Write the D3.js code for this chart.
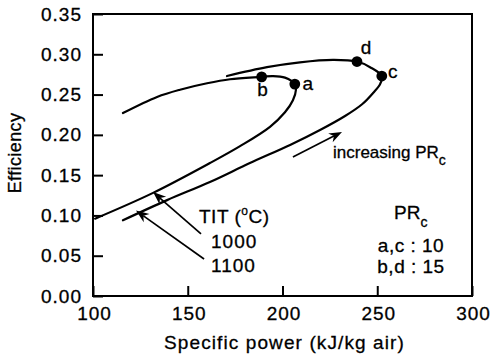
<!DOCTYPE html>
<html>
<head>
<meta charset="utf-8">
<script src="https://cdn.jsdelivr.net/npm/d3@7"></script>
<style>
  body { margin: 0; background: #fff; }
  text { font-family: "Liberation Sans", Arial, Helvetica, sans-serif; fill: #000; stroke: #000; stroke-width: 0.3px; }
</style>
</head>
<body>
<div id="chart"></div>
<script>
// Datos (potencia específica kJ/kg, eficiencia)
const tit1000X = [101.1, 131.7, 161.7, 177.6, 193.4, 201.3, 205.5, 207.1, 206.5, 201.3, 195.0, 189.0, 172.3, 160.2, 145.9, 133.8, 115.8];
const tit1000Y = [0.096, 0.128, 0.165, 0.186, 0.210, 0.228, 0.243, 0.256, 0.263, 0.271, 0.273, 0.272, 0.269, 0.264, 0.256, 0.247, 0.227];
const tit1100X = [115.8, 139.1, 161.7, 182.8, 204.0, 219.8, 233.0, 242.0, 247.8, 251.5, 252.4, 246.2, 239.3, 226.6, 209.2, 191.8, 170.7];
const tit1100Y = [0.094, 0.119, 0.1415, 0.165, 0.1874, 0.206, 0.2234, 0.238, 0.252, 0.263, 0.273, 0.284, 0.291, 0.293, 0.290, 0.284, 0.273];

// Puntos marcados
const pointNames = ["a", "b", "c", "d"];
const pointX = [206.5, 189.0, 252.4, 239.3];
const pointY = [0.263, 0.272, 0.273, 0.291];

// Ticks
const xTicks = [100, 150, 200, 250, 300];
const yTicks = [0, 0.05, 0.10, 0.15, 0.20, 0.25, 0.30, 0.35];

// Flechas de anotación [x0, y0, x1, y1] en unidades de datos
const arrowPR = [205.5, 0.1725, 231.4, 0.2036];
const arrow1000 = [157.0, 0.077, 131.7, 0.129];
const arrow1100 = [158.6, 0.046, 122.7, 0.106];

const margin = { top: 14, right: 22, bottom: 59, left: 93 };
const width = 494 - margin.left - margin.right;
const height = 355 - margin.top - margin.bottom;

const svg = d3.select("#chart")
  .append("svg")
  .attr("width", 494)
  .attr("height", 355);

const g = svg.append("g")
  .attr("transform", `translate(${margin.left},${margin.top})`);

const xScale = d3.scaleLinear().domain([100, 300]).range([0, width]);
const yScale = d3.scaleLinear().domain([0, 0.35]).range([height, 0]);

// Ejes con ticks hacia dentro
const xAxis = g.append("g")
  .attr("transform", `translate(0,${height})`)
  .call(d3.axisBottom(xScale).tickValues(xTicks).tickSizeInner(-10).tickSizeOuter(0).tickPadding(11).tickFormat(d3.format("d")));
const yAxis = g.append("g")
  .call(d3.axisLeft(yScale).tickValues(yTicks).tickSizeInner(-10).tickSizeOuter(0).tickPadding(11).tickFormat(d3.format(".2f")));

[xAxis, yAxis].forEach(ax => {
  ax.select(".domain").remove();
  ax.selectAll(".tick line").attr("stroke", "#000").attr("stroke-width", 2);
  ax.selectAll(".tick text")
    .attr("font-size", 19)
    .attr("letter-spacing", 1)
    .attr("font-family", "'Liberation Sans', Arial, sans-serif")
    .attr("fill", "#000");
});
xAxis.selectAll(".tick text").attr("dx", 1);

// Marco
g.append("rect")
  .attr("width", width)
  .attr("height", height)
  .attr("fill", "none")
  .attr("stroke", "#000")
  .attr("stroke-width", 2);

// Títulos de ejes
svg.append("text")
  .attr("x", margin.left + width / 2 + 2)
  .attr("y", 349)
  .attr("text-anchor", "middle")
  .attr("font-size", 19)
  .attr("letter-spacing", 1.1)
  .text("Specific power (kJ/kg air)");

svg.append("text")
  .attr("transform", `translate(21,${margin.top + height / 2 - 2}) rotate(-90)`)
  .attr("text-anchor", "middle")
  .attr("font-size", 18)
  .attr("letter-spacing", 0.4)
  .text("Efficiency");

// Curvas
const line = d3.line()
  .x(d => xScale(d[0]))
  .y(d => yScale(d[1]))
  .curve(d3.curveCatmullRom.alpha(0.5));

[[tit1000X, tit1000Y], [tit1100X, tit1100Y]].forEach(([xs, ys]) => {
  g.append("path")
    .datum(xs.map((x, i) => [x, ys[i]]))
    .attr("d", line)
    .attr("fill", "none")
    .attr("stroke", "#000")
    .attr("stroke-width", 2.2)
    .attr("stroke-linecap", "round");
});

// Puntos a, b, c, d
const labelOffset = { a: [13, 6], b: [1, 19], c: [11, 2], d: [9, -8] };
pointNames.forEach((name, i) => {
  const px = xScale(pointX[i]), py = yScale(pointY[i]);
  g.append("circle").attr("cx", px).attr("cy", py).attr("r", 5.4).attr("fill", "#000");
  g.append("text")
    .attr("x", px + labelOffset[name][0])
    .attr("y", py + labelOffset[name][1])
    .attr("text-anchor", "middle")
    .attr("font-size", 19)
    .text(name);
});

// Flechas
function drawArrow(a, w) {
  const x0 = xScale(a[0]), y0 = yScale(a[1]), x1 = xScale(a[2]), y1 = yScale(a[3]);
  const ang = Math.atan2(y1 - y0, x1 - x0);
  const len = 13, half = 5;
  const bx = x1 - len * Math.cos(ang), by = y1 - len * Math.sin(ang);
  const nx = -Math.sin(ang), ny = Math.cos(ang);
  const mx = x1 - 0.7 * len * Math.cos(ang), my = y1 - 0.7 * len * Math.sin(ang);
  g.append("line")
    .attr("x1", x0).attr("y1", y0).attr("x2", mx).attr("y2", my)
    .attr("stroke", "#000").attr("stroke-width", w);
  g.append("path")
    .attr("d", `M${x1},${y1}L${bx + nx * half},${by + ny * half}L${mx},${my}L${bx - nx * half},${by - ny * half}Z`)
    .attr("fill", "#000");
}
drawArrow(arrowPR, 1.7);
drawArrow(arrow1000, 1.7);
drawArrow(arrow1100, 1.7);

// Anotaciones de texto
const t1 = svg.append("text").attr("x", 333).attr("y", 158).attr("font-size", 17);
t1.append("tspan").text("increasing PR");
t1.append("tspan").attr("font-size", 14).attr("dy", 7).text("c");

const t2 = svg.append("text").attr("x", 199).attr("y", 223).attr("font-size", 19).attr("letter-spacing", 0.5);
t2.append("tspan").text("TIT (");
t2.append("tspan").attr("font-size", 12).attr("dy", -8).text("o");
t2.append("tspan").attr("dy", 8).text("C)");

svg.append("text").attr("x", 211).attr("y", 248).attr("font-size", 19).attr("letter-spacing", 1).text("1000");
svg.append("text").attr("x", 211).attr("y", 272).attr("font-size", 19).attr("letter-spacing", 1).text("1100");

const t3 = svg.append("text").attr("x", 394).attr("y", 219).attr("font-size", 19);
t3.append("tspan").text("PR");
t3.append("tspan").attr("font-size", 14).attr("dy", 8).text("c");

svg.append("text").attr("x", 411).attr("y", 252).attr("text-anchor", "middle").attr("font-size", 19).attr("letter-spacing", 0.5).text("a,c : 10");
svg.append("text").attr("x", 411).attr("y", 273).attr("text-anchor", "middle").attr("font-size", 19).attr("letter-spacing", 0.5).text("b,d : 15");
</script>
</body>
</html>
